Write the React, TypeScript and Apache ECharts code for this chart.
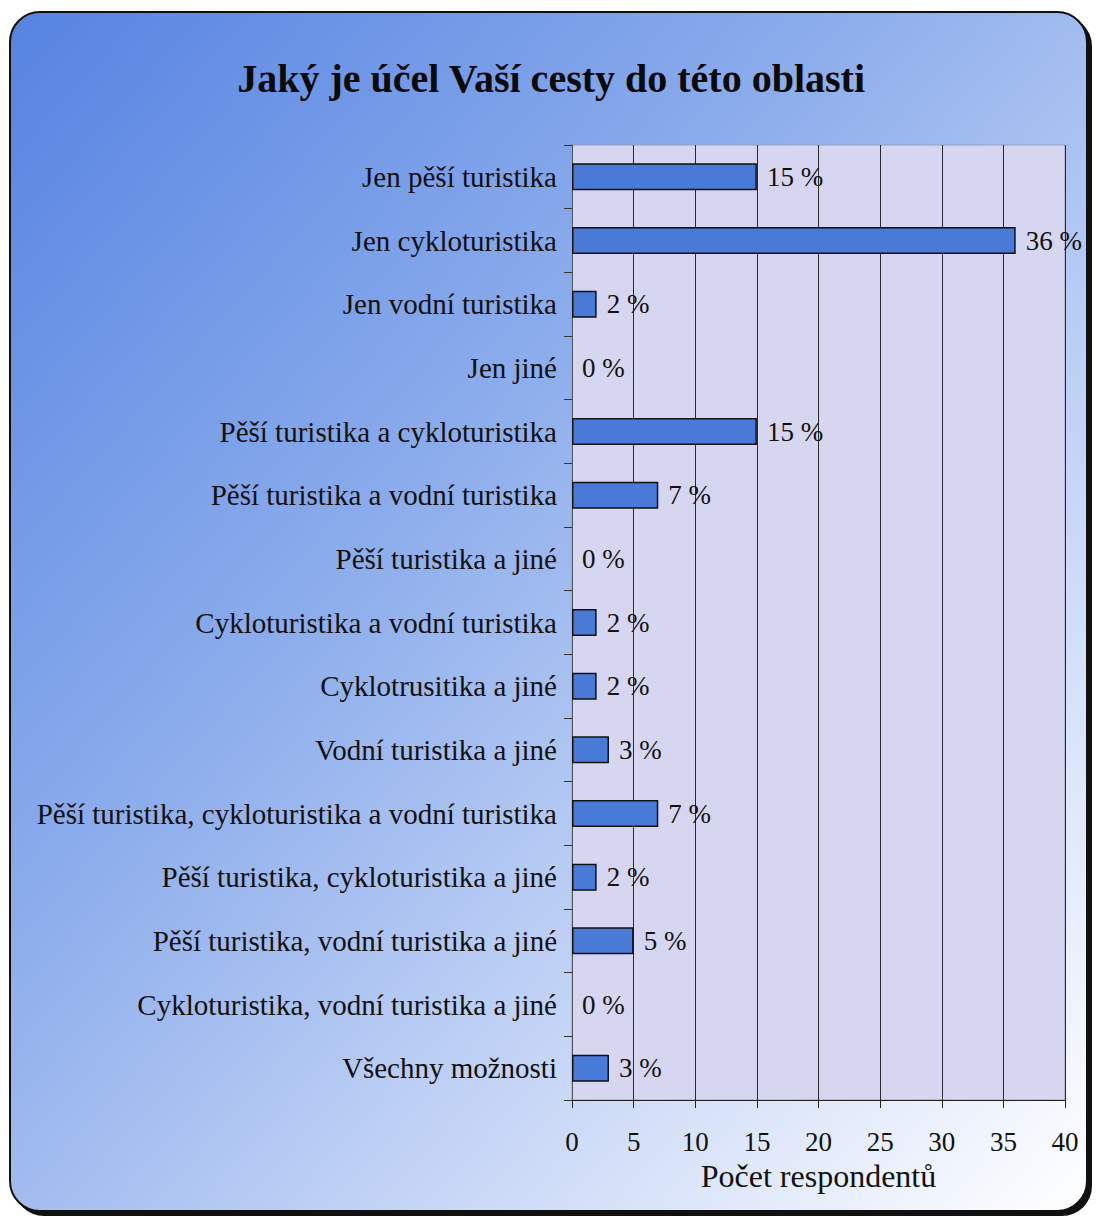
import React, { useEffect, useRef } from "react";
import * as echarts from "echarts";

const titleText = "Jaký je účel Vaší cesty do této oblasti";
const axisName = "Počet respondentů";
const categories = [
  "Jen pěší turistika",
  "Jen cykloturistika",
  "Jen vodní turistika",
  "Jen jiné",
  "Pěší turistika a cykloturistika",
  "Pěší turistika a vodní turistika",
  "Pěší turistika a jiné",
  "Cykloturistika a vodní turistika",
  "Cyklotrusitika a jiné",
  "Vodní turistika a jiné",
  "Pěší turistika, cykloturistika a vodní turistika",
  "Pěší turistika, cykloturistika a jiné",
  "Pěší turistika, vodní turistika a jiné",
  "Cykloturistika, vodní turistika a jiné",
  "Všechny možnosti",
];
const counts = [15, 36, 2, 0, 15, 7, 0, 2, 2, 3, 7, 2, 5, 0, 3];
const percentLabels = ["15 %", "36 %", "2 %", "0 %", "15 %", "7 %", "0 %", "2 %", "2 %", "3 %", "7 %", "2 %", "5 %", "0 %", "3 %"];
const xMin = 0;
const xMax = 40;
const xStep = 5;

const FONT = "'Liberation Serif', 'DejaVu Serif', serif";

export default function App() {
  const ref = useRef<HTMLDivElement>(null);
  useEffect(() => {
    if (!ref.current) return;
    const chart = echarts.init(ref.current, null, { renderer: "svg" });
    chart.setOption({
      animation: false,
      textStyle: { fontFamily: FONT },
      graphic: [
        {
          type: "rect",
          z: -10,
          shape: { x: 14, y: 16, width: 1078, height: 1200, r: 30 },
          style: { fill: "#111" },
          silent: true,
        },
        {
          type: "rect",
          z: -9,
          shape: { x: 10, y: 12, width: 1077, height: 1199, r: 30 },
          style: {
            fill: new echarts.graphic.LinearGradient(0, 0, 1, 1, [
              { offset: 0, color: "#5683e2" },
              { offset: 0.4, color: "#8eaeec" },
              { offset: 0.75, color: "#d2def8" },
              { offset: 1, color: "#ffffff" },
            ]),
            stroke: "#111",
            lineWidth: 2,
          },
          silent: true,
        },
        {
          type: "text",
          left: "center",
          top: 58,
          style: {
            text: titleText,
            font: `bold 40px ${FONT}`,
            fill: "#0a0a0a",
          },
        },
      ],
      grid: {
        left: 572,
        right: 38,
        top: 145,
        bottom: 118,
        show: true,
        backgroundColor: "#d6d6f1",
        borderColor: "#9c9cbc",
        borderWidth: 1,
      },
      xAxis: {
        type: "value",
        min: xMin,
        max: xMax,
        interval: xStep,
        axisLine: { show: true, lineStyle: { color: "#222", width: 1 } },
        axisTick: { show: true, length: 8, lineStyle: { color: "#222" } },
        splitLine: { show: true, lineStyle: { color: "#2a2a2a", width: 1 } },
        axisLabel: { fontFamily: FONT, fontSize: 27, color: "#111", margin: 28 },
        name: axisName,
        nameLocation: "middle",
        nameGap: 60,
        nameTextStyle: { fontFamily: FONT, fontSize: 32, color: "#111" },
      },
      yAxis: {
        type: "category",
        inverse: true,
        data: categories,
        axisLine: { show: true, lineStyle: { color: "#555", width: 1 } },
        axisTick: { show: true, length: 8, lineStyle: { color: "#333" } },
        axisLabel: {
          fontFamily: FONT,
          fontSize: 29,
          color: "#111",
          margin: 15,
        },
      },
      series: [
        {
          type: "bar",
          data: counts.map((v) => ({
            value: v,
            itemStyle: v === 0 ? { borderWidth: 0 } : undefined,
          })),
          barWidth: 27,
          itemStyle: { color: "#4a7ad8", borderColor: "#111", borderWidth: 1.5 },
          label: {
            show: true,
            position: "right",
            distance: 10,
            fontFamily: FONT,
            fontSize: 27,
            color: "#111",
            formatter: (p: any) => percentLabels[p.dataIndex],
          },
        },
      ],
    });
    return () => chart.dispose();
  }, []);
  return (
    <div
      ref={ref}
      style={{ position: "absolute", left: 0, top: 0, width: 1103, height: 1218 }}
    />
  );
}
